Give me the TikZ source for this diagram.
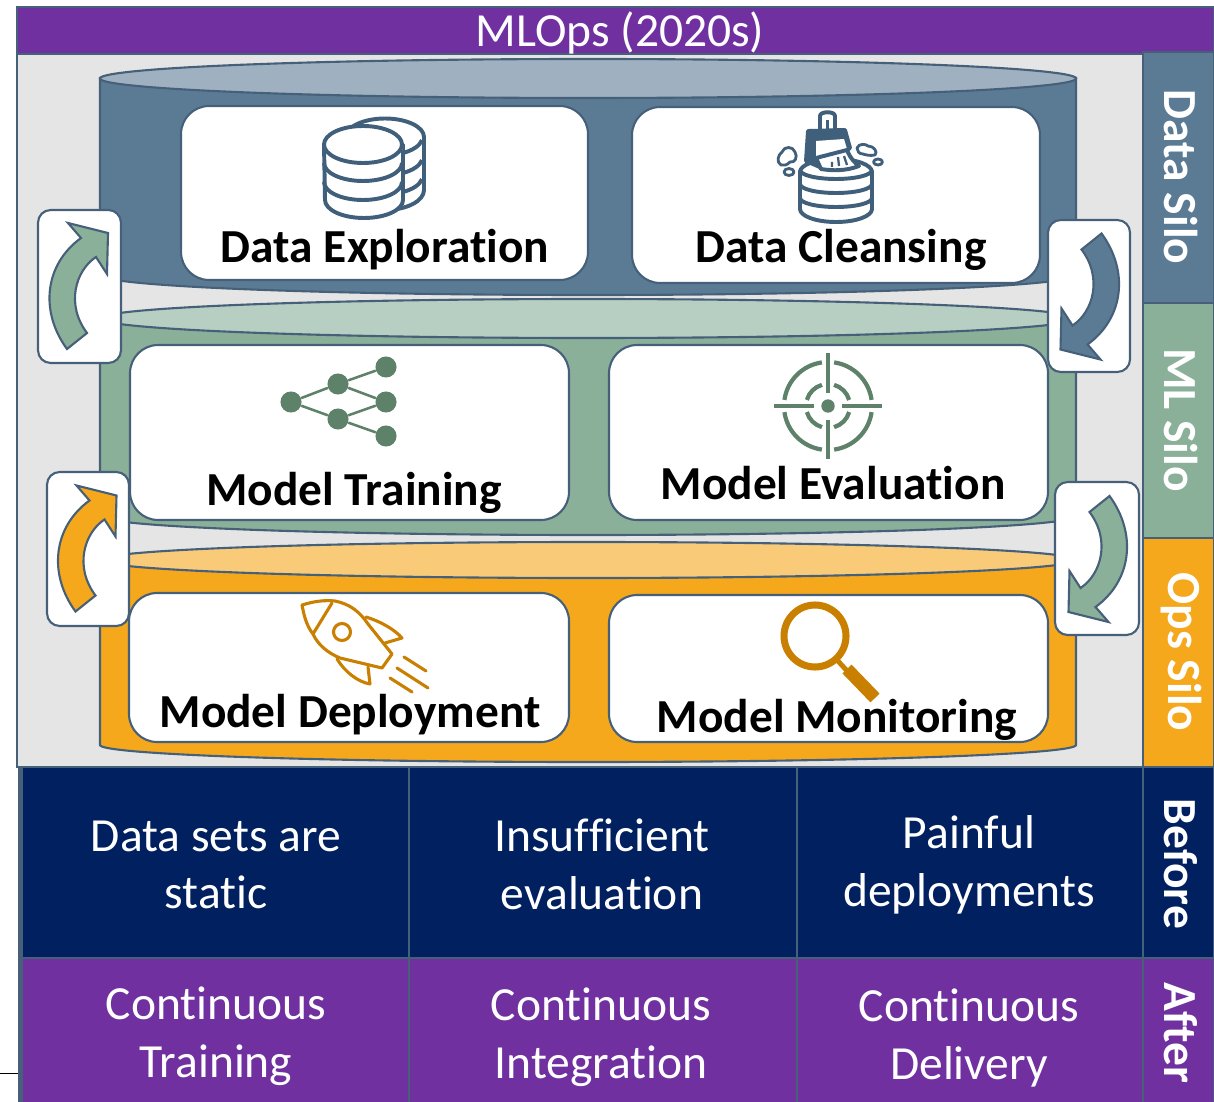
\documentclass[tikz,border=0pt]{standalone}
\usepackage{fontspec}
\setmainfont{Carlito}[Ligatures=NoCommon]
\usepackage{tikz}

\definecolor{edgeblue}{HTML}{46607A}
\definecolor{iconblue}{HTML}{3F5F7B}
\definecolor{panelgrey}{HTML}{E5E5E5}
\definecolor{mlopspurple}{HTML}{7030A0}
\definecolor{navy}{HTML}{002060}
\definecolor{databody}{HTML}{5B7B95}
\definecolor{datatop}{HTML}{9FB1C0}
\definecolor{mlbody}{HTML}{8AB09A}
\definecolor{mltop}{HTML}{B7CFC2}
\definecolor{icongreen}{HTML}{5E8169}
\definecolor{opsbody}{HTML}{F5A81C}
\definecolor{opstop}{HTML}{F9CB78}
\definecolor{iconorange}{HTML}{C97F00}

\tikzset{
	edged/.style={draw=edgeblue, line width=1.5pt},
	cellbox/.style={draw=edgeblue, line width=2pt},
	card/.style={edged, fill=white, rounded corners=20pt},
	arrowbox/.style={edged, fill=white, rounded corners=9pt},
	cardlabel/.style={font=\fontsize{33.7}{38}\selectfont\bfseries, text=black},
	celllabel/.style={font=\fontsize{33.8}{41}\selectfont, text=white, align=center},
	silolabel/.style={font=\fontsize{33.8}{38}\selectfont\bfseries, text=white, rotate=-90},
	bluedraw/.style={draw=iconblue, line width=2.8pt, line join=round},
	bluethin/.style={draw=iconblue, line width=1.6pt},
	netdot/.style={circle, fill=icongreen, inner sep=0pt, minimum size=15pt},
	netline/.style={draw=icongreen, line width=1.8pt},
	targetline/.style={draw=icongreen, line width=3pt},
	rocketline/.style={draw=iconorange, line width=2.2pt, line cap=round, line join=round},
}

% curved arrow inside a small box: centre, rotation, fill
\newcommand{\turnarrow}[3]{
	\draw[edged, fill=#3, shift={(#1)}, rotate=#2] (-11.5,-63.5) -- (28.5,-53.5) -- (27.5,-12.5) -- (16.5,-29.5)
		.. controls (-4,-16) and (-14,18) .. (7.5,46.5) -- (-12.5,62.5)
		.. controls (-40,25) and (-35,-22) .. (1.5,-48.5) -- cycle;
}

\begin{document}
\begin{tikzpicture}[x=0.025cm, y=-0.025cm]
	\useasboundingbox (0,0) rectangle (1214,1102);

	% Grey panel and title bar
	\draw[edged, fill=panelgrey] (17,54) rectangle (1143,767);
	\draw[edged, fill=mlopspurple] (17,7) rectangle (1214,54);
	\node (title) at (620,33) [font=\fontsize{33.8}{38}\selectfont, text=white] {MLOps (2020s)};

	% Silo tabs
	\draw[edged, fill=databody] (1143,52) rectangle (1214,303);
	\draw[edged, fill=mlbody] (1143,303) rectangle (1214,538);
	\draw[edged, fill=opsbody] (1143,538) rectangle (1214,767);
	\node (datasilo) at (1181,177) [silolabel] {Data Silo};
	\node (mlsilo) at (1181,420) [silolabel] {ML Silo};
	\node (opssilo) at (1181,652) [silolabel] {Ops Silo};

	% Cylinders
	\draw[edged, fill=databody] (100,78) -- (100,275) arc (180:0:488 and 20) -- (1076,78) -- cycle;
	\draw[edged, fill=datatop] (588,78.5) ellipse (488 and 19.5);
	\draw[edged, fill=mlbody] (100,318) -- (100,516) arc (180:0:488 and 19) -- (1076,318) -- cycle;
	\draw[edged, fill=mltop] (588,318.5) ellipse (488 and 19.5);
	\draw[edged, fill=opsbody] (100,560) -- (100,745) arc (180:0:488 and 17) -- (1076,560) -- cycle;
	\draw[edged, fill=opstop] (588,560) ellipse (488 and 18);

	% White cards
	\draw[card] (181,106) rectangle (588,280);
	\draw[card] (632,107) rectangle (1040,283);
	\draw[card] (130,345) rectangle (569,520);
	\draw[card] (609,345) rectangle (1048,520);
	\draw[card] (129,593) rectangle (569,742);
	\draw[card] (609,595) rectangle (1048,742);
	\node (dataexp) at (385,250) [cardlabel] {Data Exploration};
	\node (dataclean) at (841,250) [cardlabel] {Data Cleansing};
	\node (modeltrain) at (354,493) [cardlabel] {Model Training};
	\node (modeleval) at (833,483) [cardlabel] {Model Evaluation};
	\node (modeldeploy) at (350,715) [cardlabel] {Model Deployment};
	\node (modelmon) at (837,720) [cardlabel] {Model Monitoring};

	% Small boxes with curved arrows
	\draw[arrowbox] (38,210) rectangle (121,363);
	\draw[arrowbox] (1048,220) rectangle (1130,372);
	\draw[arrowbox] (47,472) rectangle (129,626);
	\draw[arrowbox] (1055,482) rectangle (1139,635);
	\turnarrow{79.5,286.5}{0}{mlbody}
	\turnarrow{1089,296}{180}{databody}
	\turnarrow{88,549}{0}{opsbody}
	\turnarrow{1097,558.5}{180}{mlbody}

	% Database icon
	\draw[bluedraw, fill=white] (346,137) arc (180:360:39 and 18.5) -- (424,190) arc (0:180:39 and 20) -- cycle;
	\draw[bluedraw] (403,153) arc (60:10:39 and 18.5);
	\draw[bluedraw] (403,173) arc (60:10:39 and 18.5);
	\draw[bluedraw] (403,192) arc (60:10:39 and 18.5);
	\draw[bluedraw, fill=white] (324,144.5) -- (403,144.5) -- (403,200) arc (0:180:39 and 18) -- cycle;
	\fill[white] (324,144.5) rectangle (403,150);
	\draw[bluedraw, fill=white] (363,144.5) ellipse (39 and 18.5);
	\draw[bluedraw] (324,163) arc (180:0:39 and 18);
	\draw[bluedraw] (324,182) arc (180:0:39 and 18);

	% Cleansing icon
	\draw[bluedraw, fill=white] (800,172) -- (800,209) arc (180:0:36 and 13) -- (872,172) arc (0:-180:36 and 13);
	\draw[bluedraw] (800,170) arc (180:0:36 and 9);
	\draw[bluedraw] (800,184) arc (180:0:36 and 9);
	\draw[bluedraw] (800,198) arc (180:0:36 and 9);
	\draw[bluedraw, fill=white] (820,132) -- (820,116) .. controls (820,111) and (835,111) .. (835,116) -- (835,132);
	\draw[bluethin] (827.5,120) -- (827.5,131);
	\draw[bluedraw, fill=iconblue] (808,131) -- (845,130) -- (850,148) -- (822,168) -- (806,161) -- cycle;
	\fill[white] (816,141) -- (844,139) -- (847,149) -- (816,157) -- cycle;
	\draw[bluedraw, fill=white] (816,158) -- (847,150) .. controls (850,158) and (855,163) .. (859,166) .. controls (846,171) and (833,171) .. (821,169) -- cycle;
	\draw[bluethin] (832,162) -- (832,167) (838,157) -- (839,166) (844,156) -- (847,165);
	\draw[bluedraw, line width=2pt, fill=white] (781,165) .. controls (776,162) and (778,155) .. (782,152) .. controls (784,146) and (793,146) .. (795,152) .. controls (798,157) and (795,163) .. (790,162) .. controls (787,165) and (784,166) .. (781,165) -- cycle;
	\draw[bluedraw, line width=2pt, fill=white] (857,148) .. controls (859,143) and (866,144) .. (868,146) .. controls (874,146) and (878,152) .. (875,155) .. controls (870,156) and (866,155) .. (863,154) .. controls (859,154) and (857,151) .. (857,148) -- cycle;
	\draw[bluedraw, line width=2pt] (789,172) ellipse (5 and 3.5);
	\draw[bluedraw, line width=2pt] (878,162) ellipse (4.5 and 3);

	% Network icon
	\node[netdot] (n1) at (291,402) {};
	\node[netdot] (n2) at (338,384) {};
	\node[netdot] (n3) at (338,419) {};
	\node[netdot] (n4) at (386,367) {};
	\node[netdot] (n5) at (386,402) {};
	\node[netdot] (n6) at (386,436) {};
	\draw[netline] (n1) -- (n2);
	\draw[netline] (n1) -- (n3);
	\draw[netline] (n2) -- (n4);
	\draw[netline] (n2) -- (n5);
	\draw[netline] (n3) -- (n5);
	\draw[netline] (n3) -- (n6);

	% Target icon
	\fill[icongreen] (828,406) circle (6.7);
	\draw[targetline] (774,406) -- (814,406);
	\draw[targetline] (842,406) -- (882,406);
	\draw[targetline] (828,353) -- (828,393);
	\draw[targetline] (828,420) -- (828,459);
	\draw[targetline] ([shift={(8:44)}]828,406) arc (8:82:44);
	\draw[targetline] ([shift={(98:44)}]828,406) arc (98:172:44);
	\draw[targetline] ([shift={(188:44)}]828,406) arc (188:262:44);
	\draw[targetline] ([shift={(278:44)}]828,406) arc (278:352:44);
	\draw[targetline] ([shift={(16:22)}]828,406) arc (16:74:22);
	\draw[targetline] ([shift={(106:22)}]828,406) arc (106:164:22);
	\draw[targetline] ([shift={(196:22)}]828,406) arc (196:254:22);
	\draw[targetline] ([shift={(286:22)}]828,406) arc (286:344:22);

	% Rocket icon
	\draw[rocketline] (302,605) .. controls (315,601) and (325,600) .. (335,601) .. controls (350,604) and (360,612) .. (368,624)
		-- (392,654) -- (382,668) -- (340,658) .. controls (328,653) and (318,645) .. (313,634) .. controls (306,625) and (304,615) .. (302,605) -- cycle;
	\draw[rocketline] (332,603) -- (313,634);
	\draw[rocketline] (342,632) circle (8.5);
	\draw[rocketline] (366,617) .. controls (382,622) and (395,630) .. (402,638) -- (385,643);
	\draw[rocketline] (337,659) .. controls (345,672) and (358,682) .. (370,684) -- (368,667);
	\draw[rocketline] (404,657) -- (426,671);
	\draw[rocketline] (397,668) -- (428,688);
	\draw[rocketline] (390,678) -- (412,692);

	% Magnifier icon
	\draw[draw=iconorange, line width=5pt] (815,636) circle (31);
	\draw[draw=iconorange, line width=3.5pt] (837,660) -- (850,674);
	\draw[draw=iconorange, line width=9pt] (847,669) -- (875,698);

	% Bottom cells
	\draw[cellbox, fill=navy] (21,767) rectangle (409,958);
	\draw[cellbox, fill=navy] (409,767) rectangle (797,958);
	\draw[cellbox, fill=navy] (797,767) rectangle (1143,958);
	\draw[cellbox, fill=navy] (1143,767) rectangle (1214,958);
	\draw[cellbox, fill=mlopspurple] (21,958) rectangle (409,1108);
	\draw[cellbox, fill=mlopspurple] (409,958) rectangle (797,1108);
	\draw[cellbox, fill=mlopspurple] (797,958) rectangle (1143,1108);
	\draw[cellbox, fill=mlopspurple] (1143,958) rectangle (1214,1108);
	\draw[draw=edgeblue, line width=3.2pt] (20.5,767) -- (20.5,1102);
	\node (static) at (216,865) [celllabel] {Data sets are\\static};
	\node (insuff) at (602,864.5) [celllabel] {Insufficient\\evaluation};
	\node (painful) at (969,864.5) [celllabel] {Painful\\deployments};
	\node (conttrain) at (216,1036) [celllabel] {Continuous\\Training};
	\node (contint) at (601,1037) [celllabel] {Continuous\\Integration};
	\node (contdel) at (969,1038) [celllabel] {Continuous\\Delivery};
	\node (before) at (1181,864) [silolabel] {Before};
	\node (after) at (1181,1033) [silolabel] {After};

	% Stray rule at the left edge
	\coordinate (ruleleft) at (0,1073.5);
	\coordinate (ruleright) at (18,1073.5);
	\draw[black, line width=0.7pt] (ruleleft) -- (ruleright);
\end{tikzpicture}
\end{document}
